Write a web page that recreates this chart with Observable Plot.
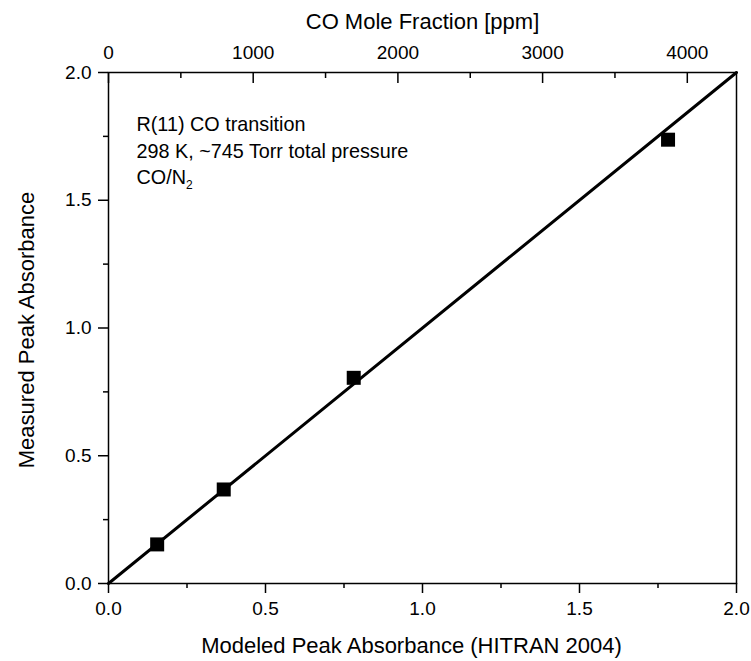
<!DOCTYPE html>
<html>
<head>
<meta charset="utf-8">
<script src="https://cdn.jsdelivr.net/npm/d3@7"></script>
<script src="https://cdn.jsdelivr.net/npm/@observablehq/plot@0.6"></script>
<style>
  html, body { margin: 0; padding: 0; background: #fff; }
  #chart svg { font-family: "Liberation Sans", Arial, Helvetica, sans-serif; }
</style>
</head>
<body>
<div id="chart"></div>
<script>
// ---- data ----
const modeled  = [0.155, 0.367, 0.781, 1.782];   // Modeled Peak Absorbance (HITRAN 2004)
const measured = [0.153, 0.368, 0.805, 1.737];   // Measured Peak Absorbance
const fitX = [0, 2];
const fitY = [0, 2];
const xMajor = [0, 0.5, 1.0, 1.5, 2.0];
const xMinor = [0.25, 0.75, 1.25, 1.75];
const yMajor = [0, 0.5, 1.0, 1.5, 2.0];
const yMinor = [0.25, 0.75, 1.25, 1.75];
const ppmMajor = [0, 1000, 2000, 3000, 4000];
const ppmMinor = [500, 1500, 2500, 3500];
const ppmAtXMax = 4340;            // CO mole fraction at modeled absorbance 2.0
const xTitle = "Modeled Peak Absorbance (HITRAN 2004)";
const yTitle = "Measured Peak Absorbance";
const topTitle = "CO Mole Fraction [ppm]";
const annotation = ["R(11) CO transition", "298 K, ~745 Torr total pressure", "CO/N2"];

const k = 2 / ppmAtXMax;           // ppm -> absorbance
const points = modeled.map((x, i) => ({x, y: measured[i]}));
const fit = fitX.map((x, i) => ({x, y: fitY[i]}));
const f1 = d3.format(".1f");

const chart = Plot.plot({
  width: 751,
  height: 661,
  marginLeft: 108,
  marginRight: 15,
  marginTop: 72,
  marginBottom: 78,
  x: {domain: [0, 2]},
  y: {domain: [0, 2]},
  style: {fontSize: "19px", color: "black", background: "white"},
  marks: [
    // bottom axis
    Plot.axisX({anchor: "bottom", ticks: xMajor, tickSize: 10, tickPadding: 8, tickFormat: f1,
      fontSize: 19, label: null, strokeWidth: 1.5}),
    Plot.axisX({anchor: "bottom", ticks: xMinor, tickSize: 5, text: null, label: null, strokeWidth: 1.5}),
    // top axis (CO mole fraction)
    Plot.axisX({anchor: "top", ticks: ppmMajor.map(p => p * k), tickSize: 0, tickPadding: 14,
      tickFormat: d => String(Math.round(d / k)), fontSize: 19, label: null}),
    Plot.axisX({anchor: "top", ticks: ppmMajor.map(p => p * k), tickSize: -10, text: null, label: null, strokeWidth: 1.5}),
    Plot.axisX({anchor: "top", ticks: ppmMinor.map(p => p * k), tickSize: -5, text: null, label: null, strokeWidth: 1.5}),
    // left axis
    Plot.axisY({anchor: "left", ticks: yMajor, tickSize: 10, tickPadding: 7, tickFormat: f1,
      fontSize: 19, label: null, strokeWidth: 1.5}),
    Plot.axisY({anchor: "left", ticks: yMinor, tickSize: 5, text: null, label: null, strokeWidth: 1.5}),
    Plot.frame({stroke: "black", strokeWidth: 1.5}),
    // axis titles
    Plot.text([xTitle], {frameAnchor: "bottom", lineAnchor: "bottom", dy: 69, dx: -11, fontSize: 22, fill: "black"}),
    Plot.text([topTitle], {frameAnchor: "top", lineAnchor: "bottom", dy: -44, fontSize: 22, fill: "black"}),
    Plot.text([yTitle], {frameAnchor: "left", textAnchor: "middle", lineAnchor: "bottom", rotate: -90,
      dx: -75, dy: 2, fontSize: 22, fill: "black"}),
    // fit line
    Plot.line(fit, {x: "x", y: "y", stroke: "black", strokeWidth: 3}),
    // data points
    Plot.dot(points, {x: "x", y: "y", symbol: "square", r: 7.9, fill: "black", stroke: "none"}),
    // annotation
    Plot.text([annotation.join("\n")], {frameAnchor: "top-left", textAnchor: "start", lineAnchor: "top",
      dx: 28, dy: 40, lineHeight: 1.33, fontSize: 19.8, fill: "black"})
  ]
});

document.getElementById("chart").appendChild(chart);

// subscript "2" in CO/N2
d3.select(chart).selectAll("tspan").each(function () {
  if (this.textContent === "CO/N2") {
    d3.select(this).text("CO/N");
    const sub = document.createElementNS("http://www.w3.org/2000/svg", "tspan");
    sub.textContent = "2";
    sub.setAttribute("font-size", "12");
    sub.setAttribute("dy", "5");
    this.appendChild(sub);
  }
});
</script>
</body>
</html>
